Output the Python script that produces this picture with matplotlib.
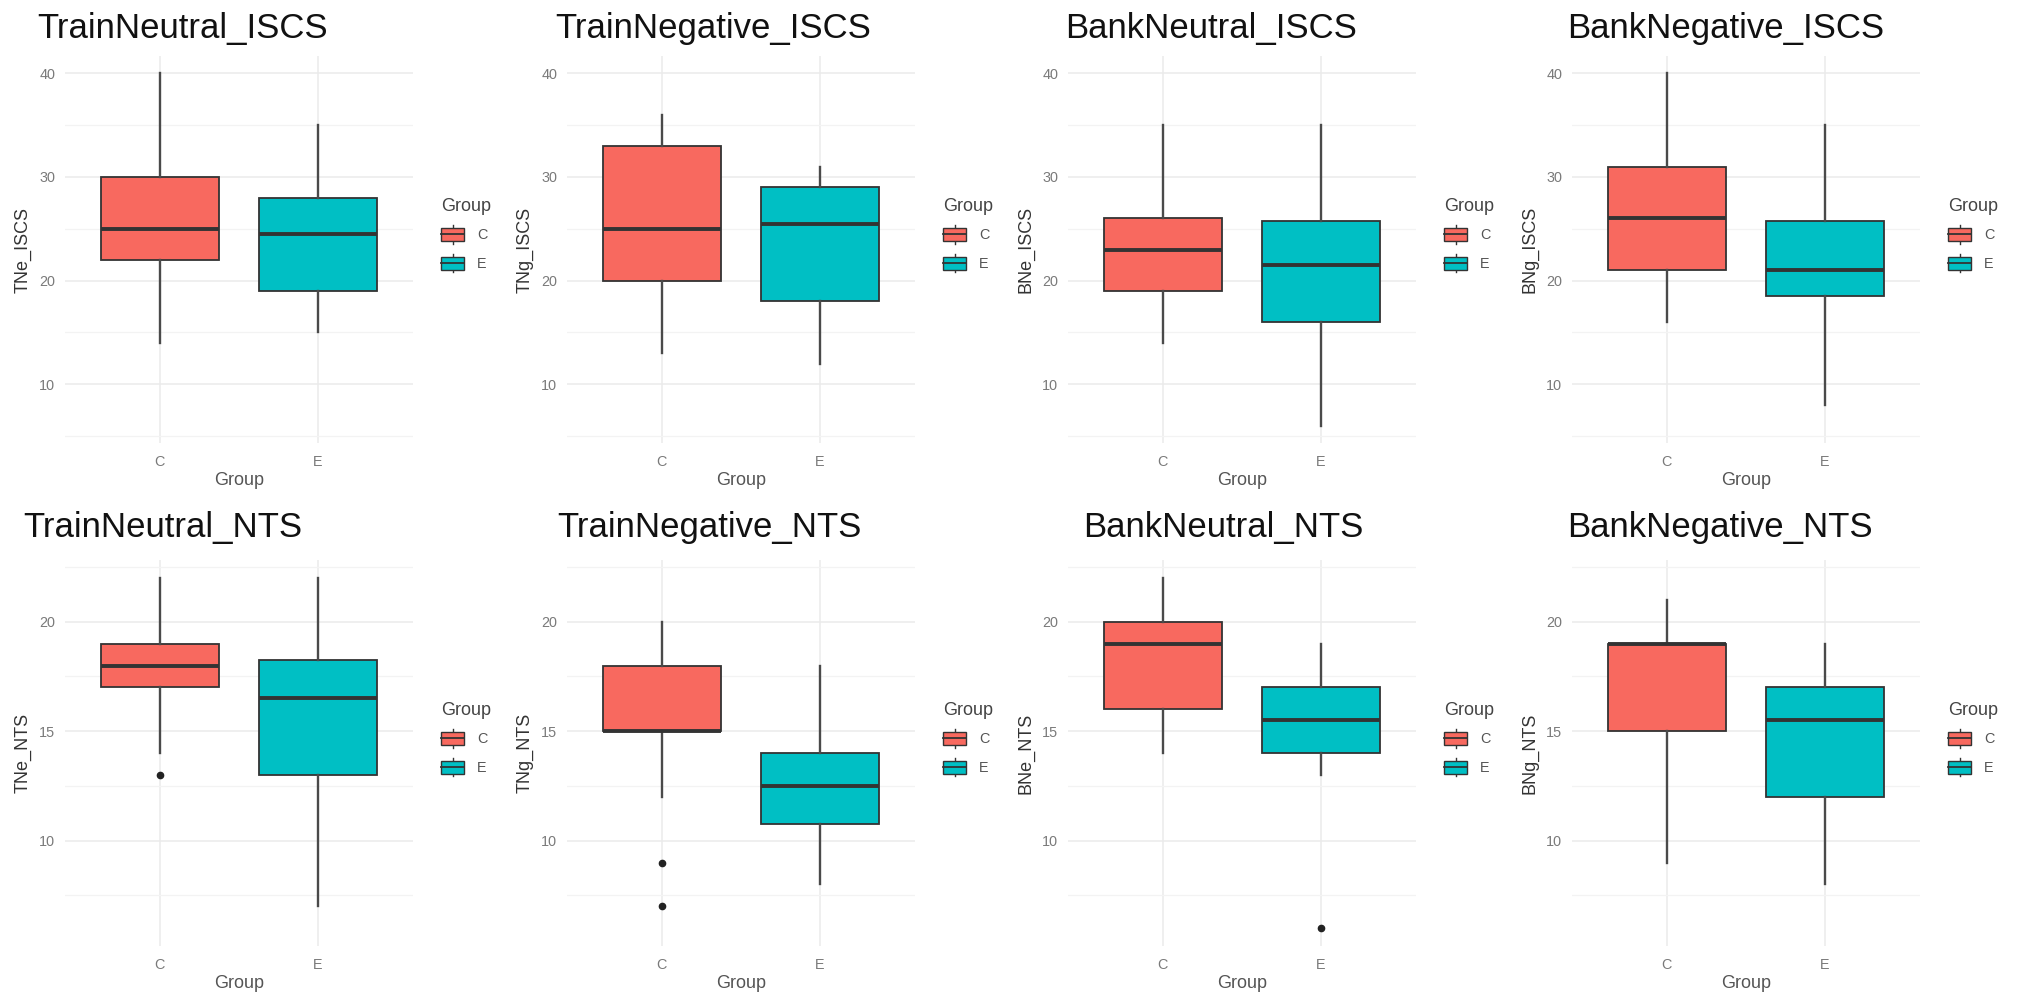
import matplotlib
matplotlib.use("Agg")
import matplotlib.pyplot as plt
from matplotlib.patches import Rectangle, Patch
from matplotlib.lines import Line2D
from matplotlib.legend_handler import HandlerBase
from matplotlib.ticker import MaxNLocator, AutoMinorLocator

plt.rcParams["font.family"] = ["Liberation Sans", "DejaVu Sans"]

groups = ["C", "E"]
titles = ["TrainNeutral_ISCS", "TrainNegative_ISCS", "BankNeutral_ISCS", "BankNegative_ISCS",
          "TrainNeutral_NTS", "TrainNegative_NTS", "BankNeutral_NTS", "BankNegative_NTS"]
ylabels = ["TNe_ISCS", "TNg_ISCS", "BNe_ISCS", "BNg_ISCS",
           "TNe_NTS", "TNg_NTS", "BNe_NTS", "BNg_NTS"]

# box statistics per panel, [C, E]
lower_whisker = [[14, 15], [13, 12], [14, 6], [16, 8],
                 [14, 7], [12, 8], [14, 13], [9, 8]]
q1 = [[22, 19], [20, 18], [19, 16], [21, 18.5],
      [17, 13], [15, 10.75], [16, 14], [15, 12]]
median = [[25, 24.5], [25, 25.5], [23, 21.5], [26, 21],
          [18, 16.5], [15, 12.5], [19, 15.5], [19, 15.5]]
q3 = [[30, 28], [33, 29], [26, 25.75], [31, 25.75],
      [19, 18.25], [18, 14], [20, 17], [19, 17]]
upper_whisker = [[40, 35], [36, 31], [35, 35], [40, 35],
                 [22, 22], [20, 18], [22, 19], [21, 19]]
outliers = [[[], []], [[], []], [[], []], [[], []],
            [[13], []], [[9, 7], []], [[], [6]], [[], []]]

fills = ["#F8695F", "#00BFC4"]
EDGE = "#333333"
W, H = 2020, 997

# panel geometry in pixels
panel_left = [65, 567, 1068, 1572]
panel_top = [55.7, 560.4]
panel_h = [387.7, 385.4]
panel_w = 348
title_x = [37, 555, 1065, 1567, 23, 557, 1083, 1567]
title_base = [38, 537]
legend_top = [198, 702]


def fig_rect(left, top, w, h):
    return [left / W, 1 - (top + h) / H, w / W, h / H]


class BoxKey(HandlerBase):
    def create_artists(self, legend, orig_handle, xdescent, ydescent,
                       width, height, fontsize, trans):
        x0, y0 = -xdescent, -ydescent
        cx = x0 + width / 2
        box = Rectangle((x0, y0 + 0.15 * height), width, 0.7 * height,
                        facecolor=orig_handle.get_facecolor(), edgecolor=EDGE,
                        lw=1.0, transform=trans)
        med = Line2D([x0, x0 + width], [y0 + 0.5 * height] * 2,
                     color=EDGE, lw=1.3, transform=trans)
        top = Line2D([cx, cx], [y0 + 0.85 * height, y0 + height],
                     color=EDGE, lw=1.0, transform=trans)
        bot = Line2D([cx, cx], [y0, y0 + 0.15 * height],
                     color=EDGE, lw=1.0, transform=trans)
        return [top, bot, box, med]


fig = plt.figure(figsize=(W / 100, H / 100), dpi=100)

rows = [range(0, 4), range(4, 8)]
for r, idx in enumerate(rows):
    vals = []
    for i in idx:
        for g in range(2):
            vals += [lower_whisker[i][g], upper_whisker[i][g]] + outliers[i][g]
    lo, hi = min(vals), max(vals)
    pad = 0.05 * (hi - lo)

    for c, i in enumerate(idx):
        ax = fig.add_axes(fig_rect(panel_left[c], panel_top[r], panel_w, panel_h[r]))
        stats = []
        for g in range(2):
            stats.append(dict(whislo=lower_whisker[i][g], q1=q1[i][g], med=median[i][g],
                              q3=q3[i][g], whishi=upper_whisker[i][g],
                              fliers=outliers[i][g], label=groups[g]))
        bp = ax.bxp(stats, positions=[1, 2], widths=0.75, patch_artist=True,
                    showcaps=False,
                    boxprops=dict(edgecolor=EDGE, lw=1.3),
                    medianprops=dict(color=EDGE, lw=2.8, solid_capstyle="butt"),
                    whiskerprops=dict(color="#4a4a4a", lw=1.7),
                    flierprops=dict(marker="o", markerfacecolor="#222222",
                                    markeredgecolor="#222222", markersize=4.5))
        for patch, col in zip(bp["boxes"], fills):
            patch.set_facecolor(col)

        ax.set_xlim(0.4, 2.6)
        ax.set_ylim(lo - pad, hi + pad)
        ax.yaxis.set_major_locator(MaxNLocator(nbins=4, steps=[1, 2, 5, 10]))
        ax.yaxis.set_minor_locator(AutoMinorLocator(2))
        ax.set_axisbelow(True)
        ax.grid(which="major", color="#ebebeb", lw=1.1)
        ax.grid(which="minor", axis="y", color="#f3f3f3", lw=0.9)
        for s in ax.spines.values():
            s.set_visible(False)
        ax.tick_params(which="both", length=0, labelsize=10.4, labelcolor="#7a7a7a")
        ax.tick_params(axis="y", pad=7)
        ax.tick_params(axis="x", pad=8.5)

        ax.set_ylabel(ylabels[i], fontsize=13, color="#333333")
        ax.yaxis.set_label_coords(-33 / panel_w, 0.5)
        ax.set_xlabel("Group", fontsize=13, color="#555555")
        ax.xaxis.set_label_coords(0.5, -29 / panel_h[r])

        fig.text(title_x[i] / W, 1 - title_base[r] / H, titles[i], fontsize=25,
                 color="#111111", ha="left", va="baseline")

        handles = [Patch(facecolor=f) for f in fills]
        leg = fig.legend(handles, groups, title="Group", loc="upper left",
                         bbox_to_anchor=((panel_left[c] + 376) / W, 1 - legend_top[r] / H),
                         frameon=False, fontsize=10.4, title_fontsize=13,
                         handler_map={Patch: BoxKey()}, handlelength=1.6,
                         handleheight=1.6, labelspacing=0.7, handletextpad=0.9,
                         borderpad=0, borderaxespad=0, alignment="left")
        leg.get_title().set_color("#444444")
        for t in leg.get_texts():
            t.set_color("#555555")

fig.savefig("out.png", dpi=100, facecolor="white")
